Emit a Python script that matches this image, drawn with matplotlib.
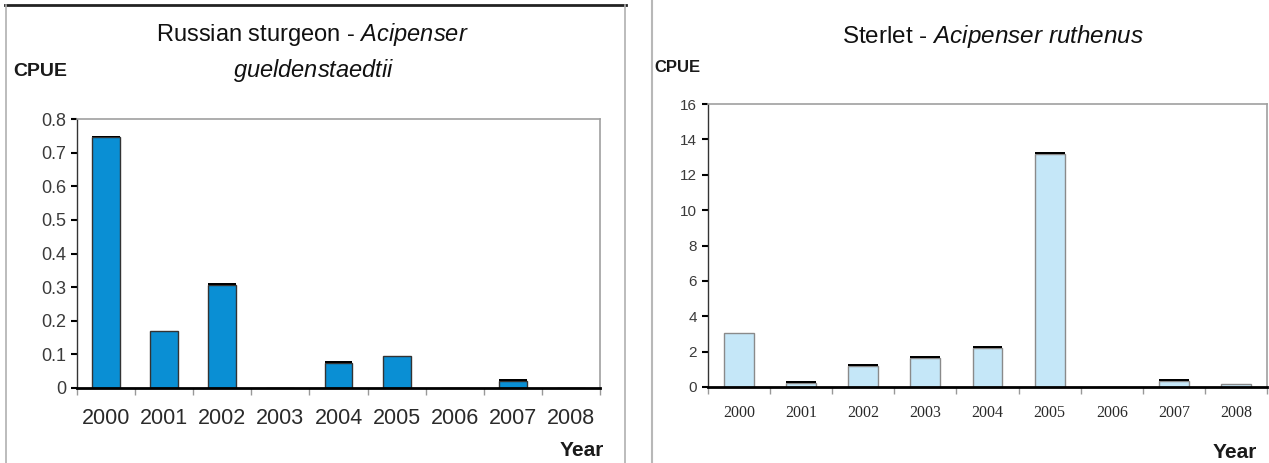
import matplotlib
matplotlib.use("Agg")
import matplotlib.pyplot as plt
from matplotlib.lines import Line2D
import numpy as np

plt.rcParams['font.family'] = ['Liberation Sans', 'DejaVu Sans']
plt.rcParams['mathtext.fontset'] = 'custom'
plt.rcParams['mathtext.rm'] = 'Liberation Sans'
plt.rcParams['mathtext.it'] = 'Liberation Sans:italic'

years = ['2000', '2001', '2002', '2003', '2004', '2005', '2006', '2007', '2008']
sturgeon_cpue = [0.745, 0.17, 0.305, 0.0, 0.075, 0.095, 0.0, 0.02, 0.0]
sturgeon_cap = [0.005, 0.0, 0.006, 0.0, 0.005, 0.0, 0.0, 0.006, 0.0]
sterlet_cpue = [3.05, 0.2, 1.2, 1.65, 2.2, 13.15, 0.0, 0.35, 0.15]
sterlet_cap = [0.0, 0.12, 0.12, 0.12, 0.12, 0.15, 0.0, 0.12, 0.0]
sturgeon_ticks = [0, 0.1, 0.2, 0.3, 0.4, 0.5, 0.6, 0.7, 0.8]
sterlet_ticks = [0, 2, 4, 6, 8, 10, 12, 14, 16]

W, H = 1269, 463
fig = plt.figure(figsize=(W / 100, H / 100), dpi=100)


def fx(x):
    return x / W


def fy(y):
    return 1 - y / H


def panel(ax, vals, caps, color, edge, ticks, ylim, tickfmt, tsize, xfont, xsize, label_y):
    x = np.arange(len(years))
    ax.bar(x, vals, width=0.48, color=color, edgecolor=edge, linewidth=1.0, zorder=3)
    ax.bar(x, caps, width=0.48, bottom=vals, color='black', linewidth=0, zorder=3)
    ax.set_xlim(-0.5, len(years) - 0.5)
    ax.set_ylim(*ylim)
    ax.set_yticks(ticks)
    ax.set_yticklabels([tickfmt(t) for t in ticks], fontsize=tsize, color='#3a3a3a')
    ax.tick_params(axis='y', direction='out', length=4, width=1.5, color='black', pad=4)
    ax.set_xticks(np.arange(len(years) + 1) - 0.5, minor=False)
    ax.set_xticklabels([])
    ax.tick_params(axis='x', direction='out', length=5, width=1, color='#999999')
    for i, yr in enumerate(years):
        ax.text(i, label_y, yr, transform=ax.get_xaxis_transform(), ha='center', va='center',
                fontsize=xsize, color='#2a2a2a', family=xfont)
    for s in ['top', 'right']:
        ax.spines[s].set_color('#a0a0a0')
        ax.spines[s].set_linewidth(1.2)
    ax.spines['left'].set_color('#333333')
    ax.spines['left'].set_linewidth(1.0)
    ax.spines['bottom'].set_color('black')
    ax.spines['bottom'].set_linewidth(2.0)
    ax.spines['bottom'].set_zorder(4)


# Left chart
h1 = 388 - 119
ax1 = fig.add_axes([fx(77), fy(388), fx(600 - 77), h1 / H])
panel(ax1, sturgeon_cpue, sturgeon_cap, '#0a8fd4', '#333333', sturgeon_ticks, (0, 0.8),
      lambda t: '0' if t == 0 else f'{t:.1f}', 13, 'Liberation Sans', 15.5, -(418 - 388) / h1)

# Right chart
h2 = 387 - 104
ax2 = fig.add_axes([fx(708), fy(387), fx(1267 - 708), h2 / H])
panel(ax2, sterlet_cpue, sterlet_cap, '#c5e7f8', '#8a8a8a', sterlet_ticks, (0, 16),
      lambda t: f'{t:d}', 11, 'Liberation Serif', 11.5, -(413 - 387) / h2)

# Titles and labels
fig.text(fx(312), fy(34), r'Russian sturgeon - $\it{Acipenser}$', ha='center', va='center',
         fontsize=17, color='#111111')
fig.text(fx(314), fy(71), r'$\it{gueldenstaedtii}$', ha='center', va='center',
         fontsize=17, color='#111111')
fig.text(fx(13), fy(72), 'CPUE', ha='left', va='center', fontsize=14, fontweight='bold',
         color='#1a1a1a')
fig.text(fx(604), fy(450), 'Year', ha='right', va='center', fontsize=15, fontweight='bold',
         color='#1a1a1a')

fig.text(fx(993), fy(36), r'Sterlet - $\it{Acipenser\ ruthenus}$', ha='center', va='center',
         fontsize=17.5, color='#111111')
fig.text(fx(654), fy(68), 'CPUE', ha='left', va='center', fontsize=12, fontweight='bold',
         color='#1a1a1a')
fig.text(fx(1257), fy(453), 'Year', ha='right', va='center', fontsize=15, fontweight='bold',
         color='#1a1a1a')

# Panel borders
fig.add_artist(Line2D([fx(5), fx(626)], [fy(5), fy(5)], color='#222222', lw=2))
fig.add_artist(Line2D([fx(6), fx(6)], [fy(5), fy(463)], color='#b0b0b0', lw=1.2))
fig.add_artist(Line2D([fx(625), fx(625)], [fy(5), fy(463)], color='#b0b0b0', lw=1.2))
fig.add_artist(Line2D([fx(652), fx(652)], [fy(0), fy(463)], color='#b8b8b8', lw=1.5))

fig.savefig('out.png', dpi=100)
